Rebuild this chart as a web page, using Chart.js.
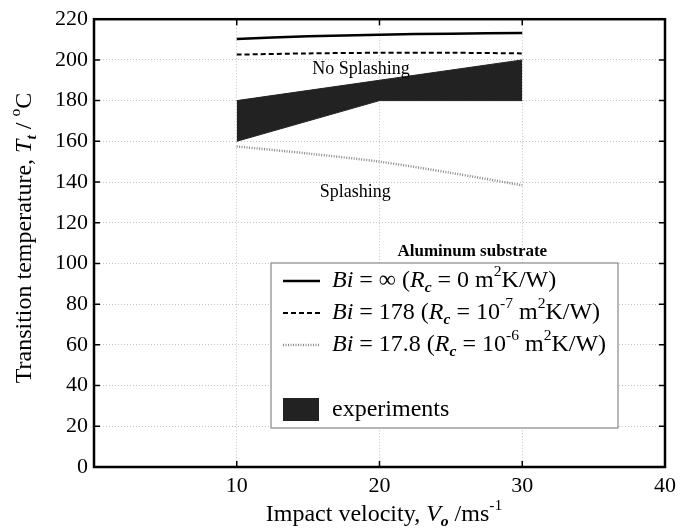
<!DOCTYPE html>
<html>
<head>
<meta charset="utf-8">
<script src="https://cdn.jsdelivr.net/npm/chart.js@4"></script>
<style>
  html, body { margin: 0; padding: 0; background: #fff; }
  #wrap { width: 689px; height: 530px; }
</style>
</head>
<body>
<div id="wrap"><canvas id="chart" width="689" height="530"></canvas></div>
<script>
// model curves
const velocity = [10, 15, 20, 25, 30];
const biInf = [210.3, 211.6, 212.4, 212.9, 213.2];
const bi178 = [202.6, 203.2, 203.5, 203.5, 203.2];
const bi17_8 = [157.5, 154.0, 150.0, 144.5, 138.4];

// experimental band (upper / lower edges)
const expVelocity = [10, 20, 30];
const expUpper = [180, 190, 200];
const expLower = [160, 180, 180];

const xTicks = [10, 20, 30, 40];
const yTicks = [0, 20, 40, 60, 80, 100, 120, 140, 160, 180, 200, 220];

const SERIF = '"Liberation Serif", "Times New Roman", serif';

const pts = (xs, ys) => xs.map((x, i) => ({ x: x, y: ys[i] }));

// draw text made of styled pieces (italic, sub, sup)
function setFont(ctx, st, size) {
  const small = st.includes('sub') || st.includes('sup');
  const fs = small ? size * 0.65 : size;
  ctx.font = (st.includes('i') ? 'italic ' : '') + (st.includes('b') ? 'bold ' : '') + fs + 'px ' + SERIF;
}
function richWidth(ctx, segs, size) {
  let w = 0;
  segs.forEach(s => {
    setFont(ctx, s[1] || '', size);
    w += ctx.measureText(s[0]).width;
  });
  return w;
}
function drawRich(ctx, segs, x, y, size, align) {
  const w = richWidth(ctx, segs, size);
  let cx = align === 'center' ? x - w / 2 : x;
  ctx.textBaseline = 'middle';
  ctx.textAlign = 'left';
  segs.forEach(s => {
    const st = s[1] || '';
    setFont(ctx, st, size);
    const dy = st.includes('sub') ? size * 0.3 : (st.includes('sup') ? -size * 0.38 : 0);
    ctx.fillText(s[0], cx, y + dy);
    cx += ctx.measureText(s[0]).width;
  });
}

const legendRows = [
  { kind: 'solid', segs: [['Bi', 'i'], [' = \u221E (', ''], ['R', 'i'], ['c', 'i sub'], [' = 0 m', ''], ['2', 'sup'], ['K/W)', '']] },
  { kind: 'dash', segs: [['Bi', 'i'], [' = 178 (', ''], ['R', 'i'], ['c', 'i sub'], [' = 10', ''], ['-7', 'sup'], [' m', ''], ['2', 'sup'], ['K/W)', '']] },
  { kind: 'dot', segs: [['Bi', 'i'], [' = 17.8 (', ''], ['R', 'i'], ['c', 'i sub'], [' = 10', ''], ['-6', 'sup'], [' m', ''], ['2', 'sup'], ['K/W)', '']] },
  { kind: 'box', segs: [['experiments', '']] }
];

const decor = {
  id: 'decor',
  afterDatasetsDraw(chart) {
    const ctx = chart.ctx;
    const a = chart.chartArea;
    const xs = chart.scales.x, ys = chart.scales.y;
    ctx.save();

    // inward tick marks
    ctx.strokeStyle = '#000';
    ctx.lineWidth = 1.5;
    ys.ticks.forEach(t => {
      const p = ys.getPixelForValue(t.value);
      ctx.beginPath();
      ctx.moveTo(a.left, p); ctx.lineTo(a.left + 6, p);
      ctx.moveTo(a.right, p); ctx.lineTo(a.right - 6, p);
      ctx.stroke();
    });
    xs.ticks.forEach(t => {
      const p = xs.getPixelForValue(t.value);
      ctx.beginPath();
      ctx.moveTo(p, a.bottom); ctx.lineTo(p, a.bottom - 6);
      ctx.moveTo(p, a.top); ctx.lineTo(p, a.top + 6);
      ctx.stroke();
    });

    // frame
    ctx.lineWidth = 2.5;
    ctx.strokeRect(a.left, a.top, a.right - a.left, a.bottom - a.top);

    // region labels
    ctx.fillStyle = '#000';
    ctx.textAlign = 'center';
    ctx.textBaseline = 'middle';
    ctx.font = '18px ' + SERIF;
    ctx.fillText('No Splashing', xs.getPixelForValue(18.7), ys.getPixelForValue(195.2));
    ctx.fillText('Splashing', xs.getPixelForValue(18.3), ys.getPixelForValue(134.8));
    ctx.font = 'bold 17px ' + SERIF;
    ctx.fillText('Aluminum substrate', xs.getPixelForValue(26.5), ys.getPixelForValue(105.6));

    // legend box
    const lx = 271, ly = 263, lw = 347, lh = 165;
    ctx.fillStyle = '#fff';
    ctx.fillRect(lx, ly, lw, lh);
    ctx.strokeStyle = '#888';
    ctx.lineWidth = 1.2;
    ctx.strokeRect(lx, ly, lw, lh);
    const rowY = [281, 313, 345, 410];
    legendRows.forEach((r, i) => {
      const y = rowY[i];
      ctx.setLineDash([]);
      if (r.kind === 'box') {
        ctx.fillStyle = '#222';
        ctx.fillRect(283, y - 12, 36, 23);
      } else {
        ctx.strokeStyle = r.kind === 'dot' ? '#8a8a8a' : '#000';
        ctx.lineWidth = r.kind === 'solid' ? 2.5 : (r.kind === 'dot' ? 2.5 : 2);
        ctx.setLineDash(r.kind === 'dash' ? [5, 3] : (r.kind === 'dot' ? [1, 1.5] : []));
        ctx.beginPath();
        ctx.moveTo(283, y); ctx.lineTo(320, y);
        ctx.stroke();
      }
      ctx.setLineDash([]);
      ctx.fillStyle = '#000';
      drawRich(ctx, r.segs, 332, y, 24, 'left');
    });

    // axis titles
    ctx.fillStyle = '#000';
    drawRich(ctx, [['Impact velocity, ', ''], ['V', 'i'], ['o', 'i sub'], [' /ms', ''], ['-1', 'sup']],
      384, 515, 24, 'center');
    ctx.save();
    ctx.translate(25, 238);
    ctx.rotate(-Math.PI / 2);
    drawRich(ctx, [['Transition temperature, ', ''], ['T', 'i'], ['t', 'i sub'], [' / ', ''], ['o', 'sup'], ['C', '']],
      0, 0, 24, 'center');
    ctx.restore();

    ctx.restore();
  }
};

new Chart(document.getElementById('chart').getContext('2d'), {
  type: 'line',
  data: {
    datasets: [
      {
        label: 'experiments',
        data: pts(expVelocity, expUpper),
        borderColor: '#222',
        backgroundColor: '#222',
        borderWidth: 1,
        pointRadius: 0,
        fill: '+1',
        order: 3
      },
      {
        label: 'experiments lower',
        data: pts(expVelocity, expLower),
        borderColor: '#222',
        borderWidth: 1,
        pointRadius: 0,
        fill: false,
        order: 3
      },
      {
        label: 'Bi = inf',
        data: pts(velocity, biInf),
        borderColor: '#000',
        borderWidth: 2.5,
        pointRadius: 0,
        tension: 0.3,
        fill: false
      },
      {
        label: 'Bi = 178',
        data: pts(velocity, bi178),
        borderColor: '#000',
        borderWidth: 2,
        borderDash: [5, 3],
        pointRadius: 0,
        tension: 0.3,
        fill: false
      },
      {
        label: 'Bi = 17.8',
        data: pts(velocity, bi17_8),
        borderColor: '#8a8a8a',
        borderWidth: 2.5,
        borderDash: [1, 1.5],
        pointRadius: 0,
        tension: 0.3,
        fill: false
      }
    ]
  },
  options: {
    responsive: false,
    animation: false,
    layout: { padding: { top: 15, right: 24, left: 0, bottom: 0 } },
    plugins: { legend: { display: false }, tooltip: { enabled: false } },
    scales: {
      x: {
        type: 'linear',
        min: 0,
        max: 40,
        afterBuildTicks: s => { s.ticks = [0].concat(xTicks).map(v => ({ value: v })); },
        afterFit: s => { s.height = 63; },
        ticks: {
          color: '#000',
          font: { family: SERIF, size: 22 },
          padding: 6,
          maxRotation: 0,
          callback: v => (v === 0 ? '' : String(v))
        },
        grid: { color: '#c4c4c4', lineWidth: 1, drawTicks: false },
        border: { display: false, dash: [1, 2] }
      },
      y: {
        min: 0,
        max: 220,
        afterBuildTicks: s => { s.ticks = yTicks.map(v => ({ value: v })); },
        afterFit: s => { s.width = 94; },
        ticks: {
          color: '#000',
          font: { family: SERIF, size: 22 },
          padding: 6
        },
        grid: { color: '#c4c4c4', lineWidth: 1, drawTicks: false },
        border: { display: false, dash: [1, 2] }
      }
    }
  },
  plugins: [decor]
});
</script>
</body>
</html>
